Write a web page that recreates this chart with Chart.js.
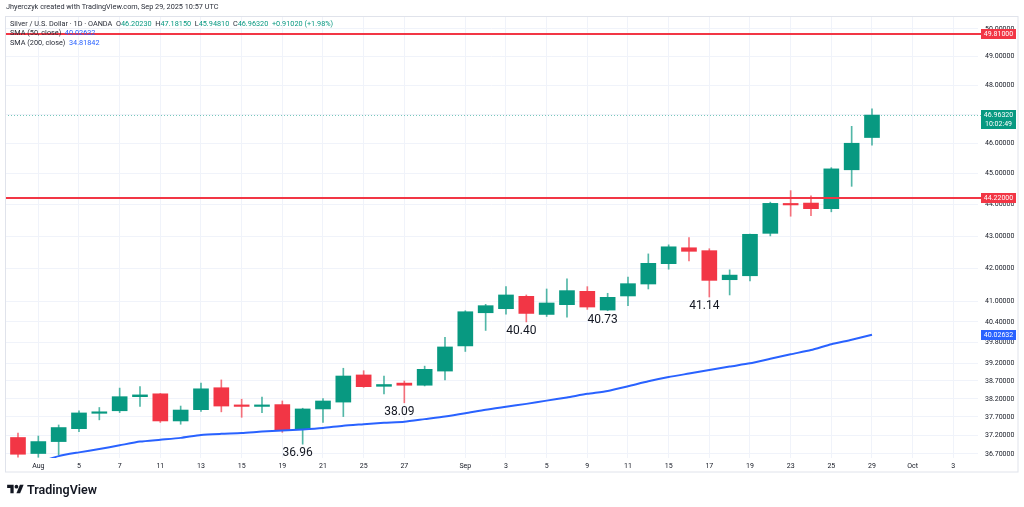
<!DOCTYPE html>
<html lang="en">
<head>
<meta charset="utf-8">
<title>Silver / U.S. Dollar · 1D · OANDA</title>
<script src="https://cdn.jsdelivr.net/npm/chart.js@4.4.1/dist/chart.umd.min.js"></script>
<style>
  html, body { margin: 0; padding: 0; background: #fff; }
  body { width: 1024px; height: 507px; position: relative; overflow: hidden; font-family: Roboto, "Liberation Sans", sans-serif; color: #131722; }
  #chart { position: absolute; left: 0; top: 0; }
  .line { position: absolute; left: 10px; font-size: 7.3px; line-height: 10px; white-space: pre; color: #2a2e39; }
  .up { color: #089981; }
  .sma { color: #2962ff; }
  #author { left: 6px; top: 2px; }
  #l2 { top: 19px; }
  #l3 { top: 27.5px; }
  #l4 { top: 38px; }
  #brand { position: absolute; left: 7px; top: 482px; display: flex; align-items: center; gap: 3px; font-size: 12.5px; font-weight: 600; color: #131722; }
</style>
</head>
<body>
<canvas id="chart" width="1024" height="507"></canvas>
<div class="line" id="author">Jhyerczyk created with TradingView.com, Sep 29, 2025 10:57 UTC</div>
<div class="line" id="l2">Silver / U.S. Dollar · 1D · OANDA  O<span class="up">46.20230</span>  H<span class="up">47.18150</span>  L<span class="up">45.94810</span>  C<span class="up">46.96320  +0.91020 (+1.98%)</span></div>
<div class="line" id="l3">SMA (50, close)  <span class="sma">40.02632</span></div>
<div class="line" id="l4">SMA (200, close)  <span class="sma">34.81842</span></div>
<div id="brand">
  <svg width="17" height="13" viewBox="0 0 36 28"><path d="M14 22H7V11H0V4h14v18z" fill="#131722"/><circle cx="20" cy="8" r="4" fill="#131722"/><path d="M28 22h-8l7.5-18h8L28 22z" fill="#131722"/></svg>
  <span>TradingView</span>
</div>
<script>
// --- DATOS DEL GRÁFICO (velas diarias) ---
const candleDates = ['Jul 31', 'Aug 1', 'Aug 4', 'Aug 5', 'Aug 6', 'Aug 7', 'Aug 8', 'Aug 11', 'Aug 12', 'Aug 13',
    'Aug 14', 'Aug 15', 'Aug 18', 'Aug 19', 'Aug 20', 'Aug 21', 'Aug 22', 'Aug 25', 'Aug 26', 'Aug 27',
    'Aug 28', 'Aug 29', 'Sep 1', 'Sep 2', 'Sep 3', 'Sep 4', 'Sep 5', 'Sep 8', 'Sep 9', 'Sep 10',
    'Sep 11', 'Sep 12', 'Sep 15', 'Sep 16', 'Sep 17', 'Sep 18', 'Sep 19', 'Sep 22', 'Sep 23', 'Sep 24',
    'Sep 25', 'Sep 26', 'Sep 29'];

const openPrices = [37.14, 36.71, 37.03, 37.38, 37.80, 37.87, 38.26, 38.34, 37.59, 37.90,
    38.51, 38.01, 37.99, 38.04, 37.36, 37.92, 38.11, 38.87, 38.55, 38.64,
    38.58, 38.98, 39.70, 40.67, 40.79, 41.16, 40.62, 40.91, 41.31, 40.75,
    41.17, 41.53, 42.15, 42.64, 42.55, 41.66, 41.78, 43.09, 44.02, 44.05,
    43.87, 45.13, 46.2023];
const highPrices = [37.26, 37.18, 37.48, 37.87, 37.96, 38.50, 38.54, 38.35, 38.00, 38.64,
    38.73, 38.19, 38.25, 38.14, 37.94, 38.21, 39.06, 38.99, 38.84, 38.70,
    39.12, 39.95, 40.73, 40.92, 41.45, 41.20, 41.38, 41.69, 41.45, 41.25,
    41.74, 42.45, 42.73, 42.96, 42.61, 41.96, 43.07, 44.08, 44.45, 44.28,
    45.20, 46.58, 47.1815];
const lowPrices = [36.61, 36.61, 36.67, 37.30, 37.62, 37.82, 37.99, 37.55, 37.50, 37.85,
    37.84, 37.69, 37.82, 37.28, 36.96, 37.55, 37.71, 38.52, 38.34, 38.09,
    38.56, 38.73, 39.54, 40.15, 40.63, 40.40, 40.56, 40.54, 40.77, 40.73,
    40.88, 41.38, 41.98, 42.23, 41.14, 41.20, 41.62, 43.01, 43.63, 43.65,
    43.77, 44.59, 45.9481];
const closePrices = [36.69, 37.03, 37.41, 37.81, 37.84, 38.26, 38.31, 37.59, 37.89, 38.48,
    38.00, 37.99, 38.02, 37.35, 37.92, 38.14, 38.84, 38.54, 38.60, 38.58,
    39.03, 39.67, 40.70, 40.88, 41.20, 40.65, 40.96, 41.33, 40.84, 41.13,
    41.54, 42.16, 42.67, 42.53, 41.64, 41.80, 43.06, 44.04, 43.99, 43.87,
    45.16, 46.01, 46.9632];

// SMA (50, close) — el primer valor no existe en la vista
const sma50 = [null, 36.47, 36.64, 36.74, 36.83, 36.93, 37.03, 37.08, 37.13, 37.21,
    37.24, 37.26, 37.30, 37.33, 37.36, 37.40, 37.46, 37.50, 37.54, 37.57,
    37.64, 37.71, 37.80, 37.90, 37.98, 38.06, 38.15, 38.24, 38.34, 38.42,
    38.55, 38.69, 38.81, 38.91, 39.01, 39.11, 39.20, 39.33, 39.46, 39.58,
    39.75, 39.88, 40.02632];

// Marcas del eje de tiempo (índice de vela) y del eje de precios
const xTickIdx = [1, 3, 5, 7, 9, 11, 13, 15, 17, 19, 22, 24, 26, 28, 30, 32, 34, 36, 38, 40, 42, 44, 46];
const xTickLabels = ['Aug', '5', '7', '11', '13', '15', '19', '21', '25', '27', 'Sep', '3', '5', '9', '11', '15', '17', '19', '23', '25', '29', 'Oct', '3'];
const yTickValues = [50, 49, 48, 47, 46, 45, 44, 43, 42, 41, 40.4, 39.8, 39.2, 38.7, 38.2, 37.7, 37.2, 36.7];

// Niveles horizontales, último precio y notas de mínimos
const levelLines = [49.81, 44.22];
const lastPrice = 46.9632;
const lastTime = '10:02:49';
const smaLast = 40.02632;
const lowNoteIdx = [14, 19, 25, 29, 34];
const lowNoteText = ['36.96', '38.09', '40.40', '40.73', '41.14'];

// --- ESTILO ---
const UP = '#089981';
const DOWN = '#f23645';
const UP_WICK = 'rgba(8, 153, 129, 0.7)';
const DOWN_WICK = 'rgba(242, 54, 69, 0.7)';
const SMA_COLOR = '#2962ff';
const GRID = '#f0f3fa';
const TEXT = '#131722';
const FONT = "Roboto, 'Liberation Sans', sans-serif";

const X_MIN = -0.639;
const X_MAX = 47.214;
const Y_MIN = 36.59;
const Y_MAX = 50.475;

Chart.defaults.font.family = FONT;

const isUp = openPrices.map((o, i) => closePrices[i] >= o);
const bodyData = candleDates.map((d, i) => ({ x: i, y: [openPrices[i], closePrices[i]] }));
const wickData = candleDates.map((d, i) => ({ x: i, y: [lowPrices[i], highPrices[i]] }));
const smaData = sma50.map((v, i) => ({ x: i, y: v })).filter(p => p.y !== null);

// Caja de precio sobre el eje derecho
function priceBox(ctx, py, color, lines) {
    const h = 10 + (lines.length - 1) * 9;
    ctx.fillStyle = color;
    ctx.fillRect(981, Math.round(py) - 5, 35, h);
    ctx.fillStyle = '#ffffff';
    ctx.font = '7px ' + FONT;
    ctx.textAlign = 'center';
    ctx.textBaseline = 'middle';
    lines.forEach((t, k) => ctx.fillText(t, 998.5, Math.round(py) + k * 9));
}

const overlayPlugin = {
    id: 'overlay',
    afterDatasetsDraw(chart) {
        const { ctx, chartArea: a, scales: { x, y } } = chart;
        ctx.save();

        // Línea punteada del último precio
        ctx.strokeStyle = 'rgba(8, 153, 129, 0.55)';
        ctx.lineWidth = 1;
        ctx.setLineDash([1, 2]);
        const py = Math.round(y.getPixelForValue(lastPrice)) + 0.5;
        ctx.beginPath();
        ctx.moveTo(a.left, py);
        ctx.lineTo(a.right + 3, py);
        ctx.stroke();
        ctx.setLineDash([]);

        // Niveles rojos
        ctx.strokeStyle = DOWN;
        ctx.lineWidth = 2;
        levelLines.forEach(v => {
            const ly = Math.round(y.getPixelForValue(v));
            ctx.beginPath();
            ctx.moveTo(a.left, ly);
            ctx.lineTo(a.right + 3, ly);
            ctx.stroke();
        });

        // Notas de mínimos bajo las velas
        ctx.fillStyle = TEXT;
        ctx.font = '12px ' + FONT;
        ctx.textAlign = 'center';
        ctx.textBaseline = 'middle';
        lowNoteIdx.forEach((i, k) => {
            ctx.fillText(lowNoteText[k], x.getPixelForValue(i) - 5, y.getPixelForValue(lowPrices[i]) + 9);
        });

        // Cajas de precio
        levelLines.forEach(v => priceBox(ctx, y.getPixelForValue(v), DOWN, [v.toFixed(5)]));
        priceBox(ctx, y.getPixelForValue(lastPrice), UP, [lastPrice.toFixed(5), lastTime]);
        priceBox(ctx, y.getPixelForValue(smaLast), SMA_COLOR, [smaLast.toFixed(5)]);

        // Marco del panel
        ctx.strokeStyle = '#e0e3eb';
        ctx.lineWidth = 1;
        ctx.strokeRect(5.5, 16.5, 1012.5, 455.5);
        ctx.restore();
    }
};

const ctx = document.getElementById('chart').getContext('2d');
new Chart(ctx, {
    type: 'bar',
    data: {
        datasets: [
            {
                type: 'line',
                label: 'SMA (50, close)',
                data: smaData,
                borderColor: SMA_COLOR,
                borderWidth: 2,
                pointRadius: 0,
                tension: 0.2,
                order: 0
            },
            {
                label: 'Body',
                data: bodyData,
                backgroundColor: isUp.map(u => u ? UP : DOWN),
                barThickness: 15,
                minBarLength: 1.5,
                grouped: false,
                order: 1
            },
            {
                label: 'Wick',
                data: wickData,
                backgroundColor: isUp.map(u => u ? UP_WICK : DOWN_WICK),
                barThickness: 1,
                grouped: false,
                order: 2
            }
        ]
    },
    options: {
        responsive: false,
        animation: false,
        layout: { padding: { left: 5, top: 16, right: 0, bottom: 35 } },
        plugins: {
            legend: { display: false },
            tooltip: { enabled: false }
        },
        scales: {
            x: {
                type: 'linear',
                min: X_MIN,
                max: X_MAX,
                offset: false,
                grid: { color: GRID, offset: false, drawTicks: false },
                border: { display: false },
                afterBuildTicks: s => { s.ticks = xTickIdx.map(v => ({ value: v })); },
                afterFit: s => { s.height = 14; },
                ticks: {
                    autoSkip: false,
                    maxRotation: 0,
                    padding: 4,
                    color: TEXT,
                    font: { size: 7 },
                    callback: (v, i) => xTickLabels[i]
                }
            },
            y: {
                type: 'logarithmic',
                position: 'right',
                min: Y_MIN,
                max: Y_MAX,
                grid: { color: GRID, drawTicks: false },
                border: { display: false },
                afterBuildTicks: s => { s.ticks = yTickValues.map(v => ({ value: v })); },
                afterFit: s => { s.width = 46; },
                ticks: {
                    padding: 7,
                    color: TEXT,
                    font: { size: 7 },
                    callback: v => Number(v).toFixed(5)
                }
            }
        }
    },
    plugins: [overlayPlugin]
});
</script>
</body>
</html>
